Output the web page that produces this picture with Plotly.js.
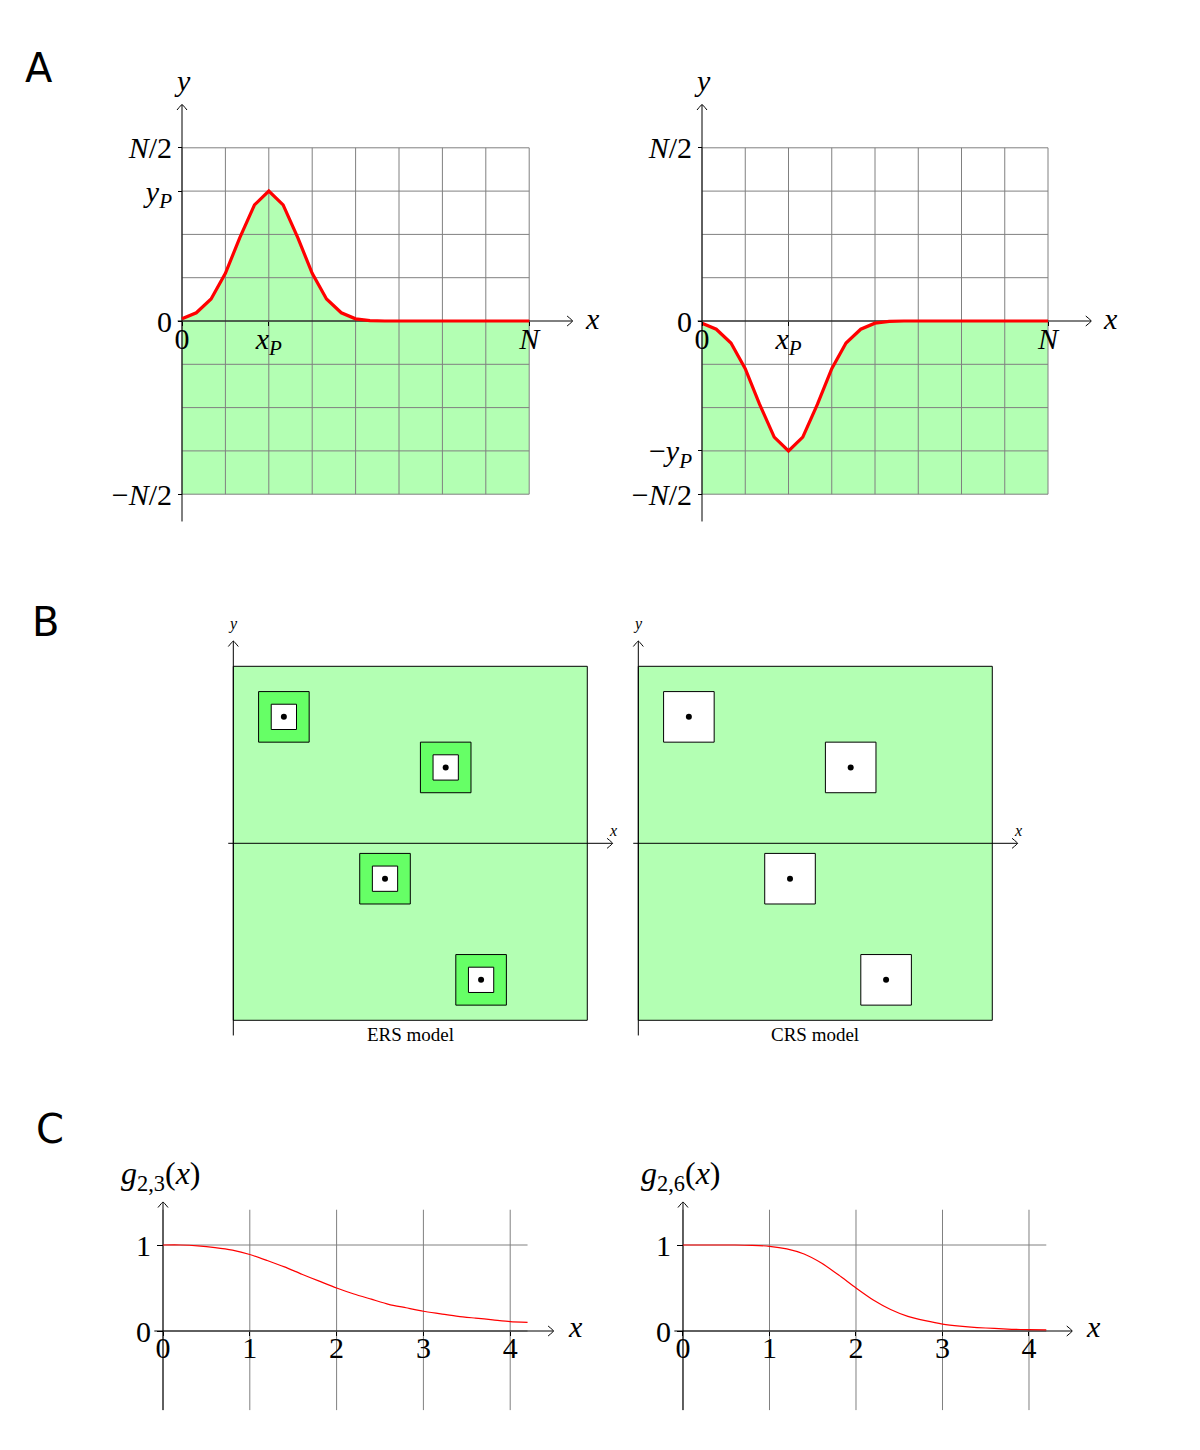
<!DOCTYPE html>
<html>
<head>
<meta charset="utf-8">
<script src="https://cdn.plot.ly/plotly-3.0.1.min.js"></script>
<style>html,body{margin:0;padding:0;background:#fff}</style>
</head>
<body>
<div id="chart" style="width:1200px;height:1450px"></div>
<script>
// ================= DATA =================
// Panel A : profile of one peak (grid units, N = 8, N/2 = 4)
const profileX    = [0, 0.33, 0.67, 1, 1.33, 1.67, 2, 2.33, 2.67, 3, 3.33, 3.67, 4, 4.33, 4.67, 8];
const profileY    = [0.05, 0.19, 0.51, 1.1, 1.92, 2.68, 3.0, 2.68, 1.92, 1.1, 0.51, 0.19, 0.05, 0.01, 0, 0];
const profileYNeg = [-0.05, -0.19, -0.51, -1.1, -1.92, -2.68, -3.0, -2.68, -1.92, -1.1, -0.51, -0.19, -0.05, -0.01, 0, 0];
const gridAX = [0, 1, 2, 3, 4, 5, 6, 7, 8];
const gridAY = [-4, -3, -2, -1, 0, 1, 2, 3, 4];
const tickAXVals = [0, 2, 8];
const tickAXText = ['0', '<i>x</i><sub><i>P</i></sub>', '<i>N</i>'];
const tickALeftYVals  = [-4, 0, 3, 4];
const tickALeftYText  = ['\u2212<i>N</i>/2', '0', '<i>y</i><sub><i>P</i></sub>', '<i>N</i>/2'];
const tickARightYVals = [-4, -3, 0, 4];
const tickARightYText = ['\u2212<i>N</i>/2', '\u2212<i>y</i><sub><i>P</i></sub>', '0', '<i>N</i>/2'];

// Panel B : particle centres
const particleX = [1.0, 4.2, 3.0, 4.9];
const particleY = [2.5, 1.5, -0.7, -2.7];
const modelNames = ['ERS model', 'CRS model'];

// Panel C : g_{2,k}(x)
const gX  = [0, 0.2, 0.4, 0.6, 0.8, 1.0, 1.2, 1.4, 1.6, 1.8, 2.0, 2.2, 2.4, 2.6, 2.8, 3.0, 3.2, 3.4, 3.6, 3.8, 4.0, 4.2];
const g23 = [1.0, 1.0, 0.99, 0.97, 0.94, 0.89, 0.82, 0.745, 0.66, 0.58, 0.5, 0.43, 0.37, 0.31, 0.27, 0.23, 0.2, 0.17, 0.15, 0.13, 0.11, 0.1];
const g26 = [1.0, 1.0, 1.0, 1.0, 0.996, 0.985, 0.955, 0.895, 0.79, 0.65, 0.5, 0.36, 0.25, 0.17, 0.12, 0.08, 0.056, 0.04, 0.03, 0.02, 0.015, 0.012];
const gridCX = [0, 1, 2, 3, 4];
const gridCY = [0, 1];
const tickCXVals = [0, 1, 2, 3, 4];
const tickCYVals = [0, 1];
const gLabels = ['<i>g</i><sub>2,3</sub>(<i>x</i>)', '<i>g</i><sub>2,6</sub>(<i>x</i>)'];
const panelLetters = ['A', 'B', 'C'];

// ================= LAYOUT GEOMETRY =================
const W = 1200, H = 1450;
const SERIF = 'Liberation Serif, Times New Roman, serif';
const SANS = 'DejaVu Sans, Arial, sans-serif';
const GRID = '#808080', LIGHT = '#b3ffb3', BRIGHT = '#66ff66';

const geo = {
  A1: {ox: 182,   oy: 321,   sx: 43.4,  sy: 43.3,  xr: [-1.5, 10],   yr: [-5.2, 6.2]},
  A2: {ox: 702,   oy: 321,   sx: 43.25, sy: 43.3,  xr: [-1.5, 10],   yr: [-5.2, 6.2]},
  B1: {ox: 233.3, oy: 843.3, sx: 50.57, sy: 50.57, xr: [-0.3, 7.7],  yr: [-4.2, 4.7]},
  B2: {ox: 638.3, oy: 843.3, sx: 50.57, sy: 50.57, xr: [-0.3, 7.7],  yr: [-4.2, 4.7]},
  C1: {ox: 163,   oy: 1331,  sx: 86.8,  sy: 86,    xr: [-0.75, 5.2], yr: [-1.1, 2.2]},
  C2: {ox: 683,   oy: 1331,  sx: 86.5,  sy: 86,    xr: [-0.75, 5.2], yr: [-1.1, 2.2]}
};

function axisIds(i) { return i === 0 ? ['x', 'y', 'xaxis', 'yaxis'] : ['x' + (i + 1), 'y' + (i + 1), 'xaxis' + (i + 1), 'yaxis' + (i + 1)]; }

const layout = {
  width: W, height: H,
  margin: {l: 0, r: 0, t: 0, b: 0},
  paper_bgcolor: '#ffffff',
  plot_bgcolor: 'rgba(0,0,0,0)',
  showlegend: false,
  shapes: [],
  annotations: []
};
const traces = [];

const tickFont = {family: SERIF, size: 30, color: '#000'};

function setupAxes(key, i, xt, yt) {
  const p = geo[key];
  const ids = axisIds(i);
  const xd = [(p.ox + p.sx * p.xr[0]) / W, (p.ox + p.sx * p.xr[1]) / W];
  const yd = [1 - (p.oy - p.sy * p.yr[0]) / H, 1 - (p.oy - p.sy * p.yr[1]) / H];
  const base = {showgrid: false, zeroline: false, showline: false, fixedrange: true, anchor: 'free',
                ticks: '', showticklabels: false, tickfont: tickFont, tickcolor: '#000', tickwidth: 1};
  layout[ids[2]] = Object.assign({}, base, {domain: xd, range: p.xr.slice(), position: 1 - p.oy / H}, xt || {});
  layout[ids[3]] = Object.assign({}, base, {domain: yd, range: p.yr.slice(), position: p.ox / W}, yt || {});
  return {xa: ids[0], ya: ids[1], p: p};
}

function gridTrace(ax, xs, ys, xlim, ylim) {
  const gx = [], gy = [];
  xs.forEach(v => { gx.push(v, v, null); gy.push(ylim[0], ylim[1], null); });
  ys.forEach(v => { gx.push(xlim[0], xlim[1], null); gy.push(v, v, null); });
  return {type: 'scatter', mode: 'lines', x: gx, y: gy, xaxis: ax.xa, yaxis: ax.ya,
          line: {color: GRID, width: 1}, hoverinfo: 'skip'};
}

// axis lines with open arrow tips (tip size given in pixels, converted through the panel scale)
function axisLines(ax, xExt, yExt) {
  const p = ax.p, len = 5.5, half = 5;
  const dxL = len / p.sx, dyH = half / p.sy;   // x-axis arrow
  const dyL = len / p.sy, dxH = half / p.sx;   // y-axis arrow
  traces.push({type: 'scatter', mode: 'lines',
    x: [xExt[0], xExt[1], null, 0, 0], y: [0, 0, null, yExt[0], yExt[1]],
    xaxis: ax.xa, yaxis: ax.ya, line: {color: '#000', width: 1}, hoverinfo: 'skip'});
  traces.push({type: 'scatter', mode: 'lines',
    x: [xExt[1] - dxL, xExt[1], xExt[1] - dxL, null, -dxH, 0, dxH],
    y: [dyH, 0, -dyH, null, yExt[1] - dyL, yExt[1], yExt[1] - dyL],
    xaxis: ax.xa, yaxis: ax.ya, line: {color: '#000', width: 1, shape: 'spline', smoothing: 0.3}, hoverinfo: 'skip'});
}

function label(ax, x, y, text, size, extra) {
  layout.annotations.push(Object.assign({xref: ax.xa, yref: ax.ya, x: x, y: y, text: text, showarrow: false,
    font: {family: SERIF, size: size, color: '#000'}, xanchor: 'center', yanchor: 'middle'}, extra || {}));
}

// ---------- Panel A ----------
[['A1', profileY, tickALeftYVals, tickALeftYText], ['A2', profileYNeg, tickARightYVals, tickARightYText]].forEach((d, k) => {
  const ax = setupAxes(d[0], k,
    {tickmode: 'array', tickvals: tickAXVals, ticktext: tickAXText, ticks: 'outside', ticklen: 4, showticklabels: true, ticklabelstandoff: -13},
    {tickmode: 'array', tickvals: d[2], ticktext: d[3], ticks: 'outside', ticklen: 4, showticklabels: true});
  const xMin = gridAX[0], xMax = gridAX[gridAX.length - 1];
  const yMin = gridAY[0], yMax = gridAY[gridAY.length - 1];
  // green area below the profile
  traces.push({type: 'scatter', mode: 'lines', fill: 'toself', fillcolor: LIGHT,
    x: profileX.concat([xMax, xMin]), y: d[1].concat([yMin, yMin]),
    xaxis: ax.xa, yaxis: ax.ya, line: {width: 0, color: LIGHT}, hoverinfo: 'skip'});
  traces.push(gridTrace(ax, gridAX, gridAY, [xMin, xMax], [yMin, yMax]));
  axisLines(ax, [-0.1, 9], [-4.63, 5]);
  traces.push({type: 'scatter', mode: 'lines', x: profileX, y: d[1], xaxis: ax.xa, yaxis: ax.ya,
    line: {color: '#ff0000', width: 3.2}, hoverinfo: 'skip'});
  label(ax, 0, 5.55, '<i>y</i>', 30);
  label(ax, 9.45, 0.05, '<i>x</i>', 30);
});

// ---------- Panel B ----------
const boxB = {x0: 0, x1: 7, y0: -3.5, y1: 3.5};
['B1', 'B2'].forEach((key, k) => {
  const ax = setupAxes(key, 2 + k);
  const s = geo[key].sx;
  layout.shapes.push({type: 'rect', xref: ax.xa, yref: ax.ya, x0: boxB.x0, x1: boxB.x1, y0: boxB.y0, y1: boxB.y1,
    fillcolor: LIGHT, line: {color: '#000', width: 1}, layer: 'below'});
  axisLines(ax, [-0.1, 7.5], [-3.8, 4]);
  if (k === 0) {
    traces.push({type: 'scatter', mode: 'markers', x: particleX, y: particleY, xaxis: ax.xa, yaxis: ax.ya,
      marker: {symbol: 'square', size: 1.0 * s, color: BRIGHT, line: {color: '#000', width: 1}}, hoverinfo: 'skip'});
    traces.push({type: 'scatter', mode: 'markers', x: particleX, y: particleY, xaxis: ax.xa, yaxis: ax.ya,
      marker: {symbol: 'square', size: 0.5 * s, color: '#ffffff', line: {color: '#000', width: 1}}, hoverinfo: 'skip'});
  } else {
    traces.push({type: 'scatter', mode: 'markers', x: particleX, y: particleY, xaxis: ax.xa, yaxis: ax.ya,
      marker: {symbol: 'square', size: 1.0 * s, color: '#ffffff', line: {color: '#000', width: 1}}, hoverinfo: 'skip'});
  }
  traces.push({type: 'scatter', mode: 'markers', x: particleX, y: particleY, xaxis: ax.xa, yaxis: ax.ya,
    marker: {symbol: 'circle', size: 6, color: '#000'}, hoverinfo: 'skip'});
  label(ax, 0, 4.33, '<i>y</i>', 16);
  label(ax, 7.5, 0.25, '<i>x</i>', 16);
  label(ax, 3.5, -3.78, modelNames[k], 19);
});

// ---------- Panel C ----------
[['C1', g23], ['C2', g26]].forEach((d, k) => {
  const ax = setupAxes(d[0], 4 + k,
    {tickmode: 'array', tickvals: tickCXVals, ticktext: tickCXVals.map(String), ticks: 'outside', ticklen: 4, showticklabels: true, ticklabelstandoff: -14},
    {tickmode: 'array', tickvals: tickCYVals, ticktext: tickCYVals.map(String), ticks: 'outside', ticklen: 6, showticklabels: true});
  traces.push(gridTrace(ax, gridCX, gridCY, [0, 4.2], [-0.92, 1.41]));
  axisLines(ax, [-0.1, 4.5], [-0.92, 1.5]);
  traces.push({type: 'scatter', mode: 'lines', x: gX, y: d[1], xaxis: ax.xa, yaxis: ax.ya,
    line: {color: '#ff0000', width: 1.2, shape: 'spline', smoothing: 0.6}, hoverinfo: 'skip'});
  label(ax, -0.02, 1.81, gLabels[k], 32);
  label(ax, 4.75, 0.05, '<i>x</i>', 30);
});

// ---------- panel letters ----------
[[39, 68], [45, 622], [50, 1129]].forEach((pos, k) => {
  layout.annotations.push({xref: 'paper', yref: 'paper', x: pos[0] / W, y: 1 - pos[1] / H, text: panelLetters[k],
    showarrow: false, xanchor: 'center', yanchor: 'middle', font: {family: SANS, size: 40, color: '#000'}});
});

Plotly.newPlot('chart', traces, layout, {staticPlot: true, displayModeBar: false});
</script>
</body>
</html>
